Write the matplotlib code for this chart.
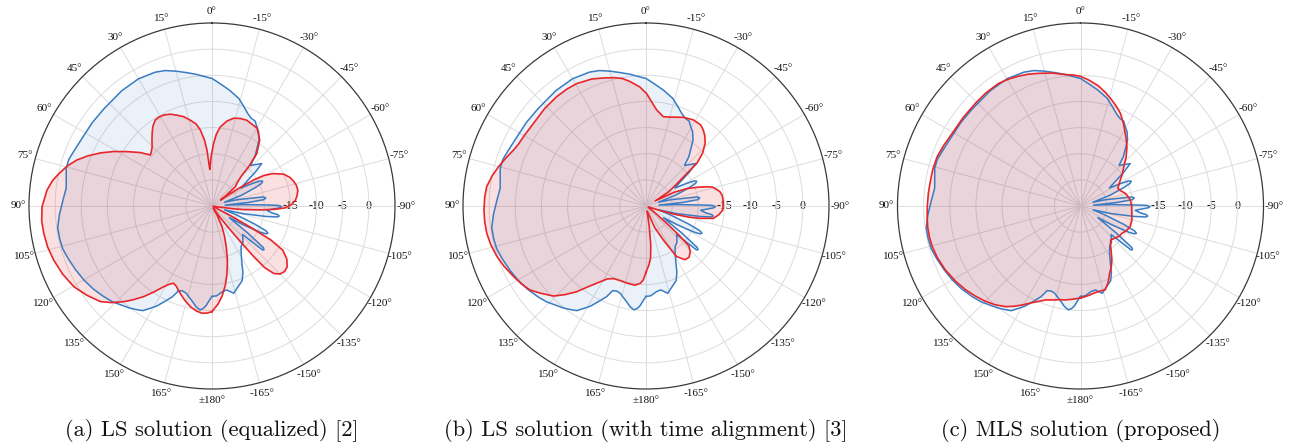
import numpy as np
import matplotlib
matplotlib.use("Agg")
import matplotlib.pyplot as plt

# ---------------- data (angle in degrees, level in dB) ----------------
blue_theta = [-180, -177, -173, -170, -166, -162, -158, -155, -152.5, -148, -144, -140,
              -136, -133, -131, -130, -129, -127, -124, -121, -118.5, -117.3, -116, -114.7,
              -113, -110, -107, -104, -101, -99.5, -98.5, -97.5, -96.5, -94.5, -92.5, -91.5,
              -90.5, -89.5, -89, -87.5, -86, -84.5, -83, -81.5, -80,
              -79, -76, -73, -70, -67, -65.5, -64, -62.5, -61, -58, -55, -52, -49.5, -46.5, -43.5,
              -41, -38.5, -35.5, -32, -29.5, -27, -24, -21, -18, -14, -8.6, -4, 0, 4,
              7, 11, 15, 19, 23, 30, 38, 48, 55, 62, 68, 72, 75.5, 79, 83, 87.5, 93,
              98, 102, 106, 110, 115, 120, 125, 130, 134, 138, 141, 144, 146.5, 149,
              151, 154, 156.5, 158.5, 161, 163.5, 166, 168.6, 171, 173.4, 175, 176.6,
              178.5, 180]
blue_db = [-12.7, -12.8, -13.5, -13.7, -12.8, -13.8, -14.6, -16.0, -17.6, -19.5, -20.5, -20.8,
           -21.5, -22.0, -17.2, -17.0, -17.4, -21.5, -26.0, -23.0, -19.5, -18.4, -18.1, -18.6,
           -21.0, -25.0, -27.5, -24.0, -19.5, -17.3, -17.0, -17.3, -18.5, -19.5, -18.0, -17.0,
           -16.7, -17.3, -19.0, -24.0, -27.5, -23.0, -20.0, -19.6, -20.0,
           -22.0, -25.0, -27.5, -24.0, -21.0, -19.6, -19.2, -19.6, -21.0, -23.5, -22.0, -19.5, -17.5, -18.5, -19.3,
           -17.5, -16.3, -14.5, -13.2, -12.6, -11.8, -11.6, -11.0, -10.1, -8.8, -7.6, -6.6, -5.6, -5.1,
           -4.6, -4.0, -3.3, -2.6, -2.2, -1.9, -2.0, -2.2, -2.1, -2.0, -1.6, -1.2, -1.2, -1.6, -1.9, -1.5, -0.8,
           -0.2, -0.2, -0.3, -0.7, -1.2, -1.7, -2.3, -3.0, -3.6, -4.4, -4.9, -5.5, -6.0, -7.2,
           -8.1, -9.8, -11.1, -12.6, -12.8, -12.6, -12.0, -11.3, -10.5, -10.0, -10.3, -10.9,
           -12.0, -12.7]

red_a_theta = [-180, -176.5, -173.7, -170.5, -167.4, -164, -160.6, -157.5, -154.2, -151, -148,
               -145, -143, -141.5, -140.5, -139.5, -137.5, -135, -132, -129, -125.5, -122,
               -120, -119, -117.5, -115, -110, -105, -100, -97.5, -96.5, -94.5, -93, -91.5,
               -89, -86, -83, -79.5, -76, -73, -70, -66, -62, -59.5, -58, -56.5, -55, -53,
               -50.4, -47, -44.5, -43, -40.5, -35.8, -30.1, -22.1, -18, -13.9, -10, -6, -3.5,
               -1.5, 1, 2.5, 3.5, 4.3, 5.1, 6.5, 8.7, 11, 14.1, 17.5, 21, 24.5, 28, 31, 33.4,
               36.5, 39.5, 42.5, 45.3, 48, 50.4, 53.3, 57.4, 61, 64.5, 68, 71.2, 74.5, 78, 81,
               84.5, 90.2, 95, 99.2, 104, 108.8, 114.5, 120.3, 125.5, 130.6, 134, 137.3, 140,
               143, 146, 149.1, 151.5, 153.6, 156, 158, 160.1, 164, 167.9, 171.5, 174.7, 177.5, 180]
red_a_db = [-9.8, -11.2, -12.6, -14.6, -16.8, -19.3, -21.8, -23.8, -25.6, -28.0, -29.5,
            -27.5, -25.0, -21.5, -17.5, -14.5, -12.5, -11.6, -11.3, -11.5, -12.4, -14.0,
            -17.0, -21.0, -26.0, -29.5, -29.8, -29.8, -29.5, -26.0, -24.0, -20.5, -18.0, -16.0,
            -14.8, -14.0, -13.6, -13.3, -13.4, -13.7, -14.1, -15.0, -16.8, -18.5, -20.5, -24.0, -28.0, -26.5,
            -24.2, -23.3, -22.0, -19.7, -16.8, -14.4, -12.8, -12.3, -12.4, -12.7, -13.5, -14.8, -16.2,
            -18.0, -20.5, -22.2, -23.0, -21.5, -19.3, -17.3, -15.3, -14.0, -13.1, -12.1, -11.4, -10.7, -10.3, -10.2, -10.3,
            -11.0, -12.0, -13.0, -13.9, -14.4, -14.7, -12.9, -10.7, -8.5, -6.4, -4.4, -2.7, -1.3, -0.1, 0.9,
            1.7, 2.5, 2.7, 2.6, 2.4, 2.0, 1.4, 0.6, -0.6, -1.9, -3.4, -5.1, -6.6,
            -8.3, -10.2, -12.0, -13.0, -13.5, -13.2, -12.7, -12.2, -11.2, -10.3, -9.7, -9.4, -9.5, -9.8]

red_b_theta = [-180, -177, -175, -173, -171, -168, -163, -158, -153, -148.8, -144, -140, -136,
               -133, -131.5, -130, -127, -120, -112, -108, -106, -104.5, -103, -100.4, -97, -93,
               -90.5, -86, -82, -79, -76.5, -74, -72.5, -70, -67, -64, -61, -58, -55, -52, -50,
               -47, -43.3, -40, -37, -34, -28.8, -22.8, -15, -11, -6.3, -3, -0.3, 3, 7.3, 10.5,
               14, 18.4, 23, 29.5, 34, 39.3, 46, 53.7, 60, 64, 67.1, 71, 75.1, 79, 83.1, 87,
               91.4, 95.5, 99.7, 104, 108.7, 113, 118, 122, 125.9, 129.5, 134.2, 137.5, 141,
               144, 147.5, 152, 156, 161, 166, 172, 176, 178, 180]
red_b_db = [-17.3, -18.8, -20.0, -22.5, -26.0, -29.0, -28.5, -25.5, -22.7, -18.7, -17.3, -17.2, -17.8,
            -18.8, -21.5, -24.5, -28.0, -29.5, -29.5, -27.0, -24.0, -21.5, -19.5, -16.9, -16.0, -15.3,
            -15.2, -15.2, -15.3, -15.6, -16.2, -16.8, -17.8, -19.5, -21.5, -24.0, -28.0, -25.0, -23.2, -20.7, -17.3,
            -15.2, -13.5, -12.5, -11.8, -11.3, -11.2, -11.6, -12.4, -12.6, -11.5, -10.0, -8.5, -7.2, -6.0, -5.2,
            -4.7, -4.2, -3.6, -3.1, -3.0, -3.0, -3.1, -3.3, -3.1, -2.9, -2.5, -1.7, -0.8, 0.0, 0.7, 0.9,
            1.0, 1.0, 0.9, 0.6, 0.1, -0.5, -1.3, -1.9, -2.6, -3.8, -5.3, -7.0, -8.9,
            -10.8, -12.5, -14.2, -14.8, -14.9, -14.8, -14.7, -15.2, -15.9, -17.3]

red_c_theta = [-180, -175, -170.3, -167, -163.5, -160, -156.5, -153, -149.7, -146, -142, -138.4,
               -133, -128, -123.4, -118, -112.5, -105, -98.1, -90, -83.1, -78, -74.2, -69, -64.6,
               -61, -56.9, -52, -47.7, -43, -38.1, -35, -31.7, -27.5, -23.3, -20, -16.6, -12.5,
               -8.6, -4, 0, 3.3, 6.6, 12, 17.5, 21.5, 25.4, 29.5, 33.7, 40, 45.7, 53, 60.5, 66,
               71, 76, 80.2, 85, 90, 94, 97.7, 101.5, 105.3, 110, 115.3, 121, 126.1, 130.5,
               134.8, 139, 143.3, 146.5, 149.4, 153, 156.4, 160, 164, 167, 170.8, 175, 180]
red_c_db = [-12.4, -12.8, -13.2, -13.3, -13.3, -14.5, -16.0, -17.0, -18.1, -19.5, -20.7, -21.3,
            -21.0, -20.6, -20.5, -20.0, -19.7, -19.8, -20.1, -20.2, -20.4, -20.8, -21.1, -21.8, -22.1,
            -21.6, -20.9, -19.8, -18.8, -17.2, -15.6, -14.7, -13.7, -12.2, -10.7, -9.8, -8.9, -7.8,
            -6.8, -5.9, -5.2, -4.9, -4.7, -4.0, -3.4, -2.9, -2.5, -2.1, -1.8, -1.8, -1.9, -1.9, -1.8, -1.4,
            -1.0, -0.9, -0.9, -0.8, -0.7, -0.6, -0.5, -0.5, -0.6, -0.9, -1.4, -2.1, -2.8, -3.5,
            -4.2, -5.0, -6.0, -7.0, -8.0, -9.2, -10.1, -10.9, -11.3, -11.6, -11.8, -12.1, -12.4]

red_series = [(red_a_theta, red_a_db), (red_b_theta, red_b_db), (red_c_theta, red_c_db)]
captions = ["(a) LS solution (equalized) [2]",
            "(b) LS solution (with time alignment) [3]",
            "(c) MLS solution (proposed)"]
angle_ticks = list(range(0, 360, 15))
angle_labels = ["0°", "15°", "30°", "45°", "60°", "75°", "90°", "105°", "120°", "135°",
                "150°", "165°", "±180°", "-165°", "-150°", "-135°", "-120°", "-105°",
                "-90°", "-75°", "-60°", "-45°", "-30°", "-15°"]
r_ticks = [-25, -20, -15, -10, -5, 0]
r_labels = ["", "", "-15", "-10", "-5", "0"]

# ---------------- figure ----------------
W, H = 1295, 446
fig = plt.figure(figsize=(W / 100, H / 100), dpi=100)
centers_x = [212, 646, 1080.5]
cy = 206
R = 183

blue_line = "#3a7bc2"
red_line = "#e8262a"
serif = ["Liberation Serif", "DejaVu Serif"]

for i, cx in enumerate(centers_x):
    ax = fig.add_axes([(cx - R) / W, (H - cy - R) / H, 2 * R / W, 2 * R / H],
                      projection="polar")
    ax.set_theta_zero_location("N")
    ax.set_theta_direction(1)
    ax.set_rlim(-30, 5)
    ax.set_thetagrids(angle_ticks, angle_labels, fontsize=8, family=serif)
    ax.set_rgrids(r_ticks, labels=[""] * len(r_ticks))
    ax.tick_params(axis="x", pad=-2.5, colors="#111111")
    ax.grid(True, color="#dcdcdc", lw=0.7)
    ax.spines["polar"].set_color("#3a3a3a")
    ax.spines["polar"].set_linewidth(0.9)
    ax.set_facecolor("white")

    for r, lab in zip(r_ticks, r_labels):
        if lab:
            ax.text(np.deg2rad(-90), r, lab, ha="center", va="center",
                    fontsize=8.5, family=serif, color="#111111", zorder=1)

    bt = np.deg2rad(blue_theta)
    rt, rd = red_series[i]
    rt = np.deg2rad(rt)
    ax.fill(bt, blue_db, color="#3a7bc2", alpha=0.10, lw=0, zorder=2)
    ax.fill(rt, rd, color="#e0262a", alpha=0.14, lw=0, zorder=3)
    ax.plot(bt, blue_db, color=blue_line, lw=1.1, zorder=4)
    ax.plot(rt, rd, color=red_line, lw=1.2, zorder=5)

    fig.text(cx / W, 1 - 431 / H, captions[i], ha="center", va="center",
             family=["cmr10", "DejaVu Serif"], fontsize=16.2, color="#111111")

fig.savefig("out.png", dpi=100, facecolor="white")
